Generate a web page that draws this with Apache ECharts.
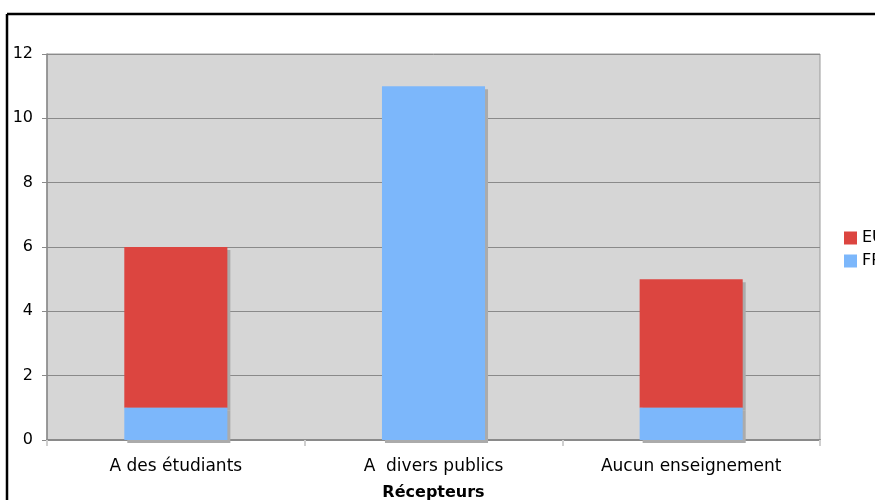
<!DOCTYPE html>
<html>
<head>
<meta charset="utf-8">
<script src="https://cdn.jsdelivr.net/npm/echarts@6/dist/echarts.min.js"></script>
<style>
  html, body { margin: 0; padding: 0; background: #ffffff; }
  #chart { width: 875px; height: 500px; }
</style>
</head>
<body>
<div id="chart"></div>
<script>
// Récepteurs par catégorie, empilés FR (bas) + EU (haut)
const categories = ['A des étudiants', 'A  divers publics', 'Aucun enseignement'];
const frValues = [1, 11, 1];
const euValues = [5, 0, 4];
const yTicks = { min: 0, max: 12, interval: 2 };

const chart = echarts.init(document.getElementById('chart'), null, { renderer: 'canvas' });

const font = 'DejaVu Sans, Verdana, sans-serif';
const shadow = { shadowColor: '#ababab', shadowOffsetX: 3, shadowOffsetY: 3, shadowBlur: 0 };

chart.setOption({
  animation: false,
  backgroundColor: '#ffffff',
  textStyle: { fontFamily: font },
  graphic: [
    // cadre noir autour du graphique
    { type: 'line', z: 100, shape: { x1: 7, y1: 14, x2: 875, y2: 14 }, style: { stroke: '#000', lineWidth: 2.5 } },
    { type: 'line', z: 100, shape: { x1: 7, y1: 14, x2: 7, y2: 500 }, style: { stroke: '#000', lineWidth: 2.5 } }
  ],
  grid: {
    left: 47, right: 55, top: 54, bottom: 60,
    outerBoundsMode: 'none',
    containLabel: false,
    show: true,
    backgroundColor: '#d6d6d6',
    borderColor: '#9a9a9a',
    borderWidth: 1
  },
  legend: {
    data: ['EU', 'FR'],
    orient: 'vertical',
    left: 839, top: 225,
    itemWidth: 13, itemHeight: 13,
    itemGap: 7,
    icon: 'rect',
    textStyle: { fontFamily: font, fontSize: 16, color: '#000' }
  },
  xAxis: {
    type: 'category',
    data: categories,
    name: 'Récepteurs',
    nameLocation: 'middle',
    nameGap: 45,
    nameTextStyle: { fontFamily: font, fontSize: 16, fontWeight: 'bold', color: '#000' },
    axisLine: { z: 10, lineStyle: { color: '#8a8a8a', width: 2 } },
    axisTick: { show: true, length: 6, lineStyle: { color: '#cfcfcf', width: 2 } },
    axisLabel: { fontFamily: font, fontSize: 17, color: '#000', margin: 18 }
  },
  yAxis: {
    type: 'value',
    min: yTicks.min, max: yTicks.max, interval: yTicks.interval,
    axisLine: { show: true, lineStyle: { color: '#8a8a8a', width: 1.5 } },
    axisTick: { show: true, length: 5, lineStyle: { color: '#8a8a8a' } },
    axisLabel: { fontFamily: font, fontSize: 16, color: '#000', margin: 14 },
    splitLine: { show: true, lineStyle: { color: '#8a8a8a', width: 1 } }
  },
  series: [
    {
      name: 'FR', type: 'bar', stack: 'total', data: frValues,
      barWidth: '40%', z: 3,
      itemStyle: Object.assign({ color: '#7cb7fb' }, shadow)
    },
    {
      name: 'EU', type: 'bar', stack: 'total', data: euValues,
      barWidth: '40%', z: 2,
      itemStyle: Object.assign({ color: '#dc4540' }, shadow)
    }
  ]
});
</script>
</body>
</html>
